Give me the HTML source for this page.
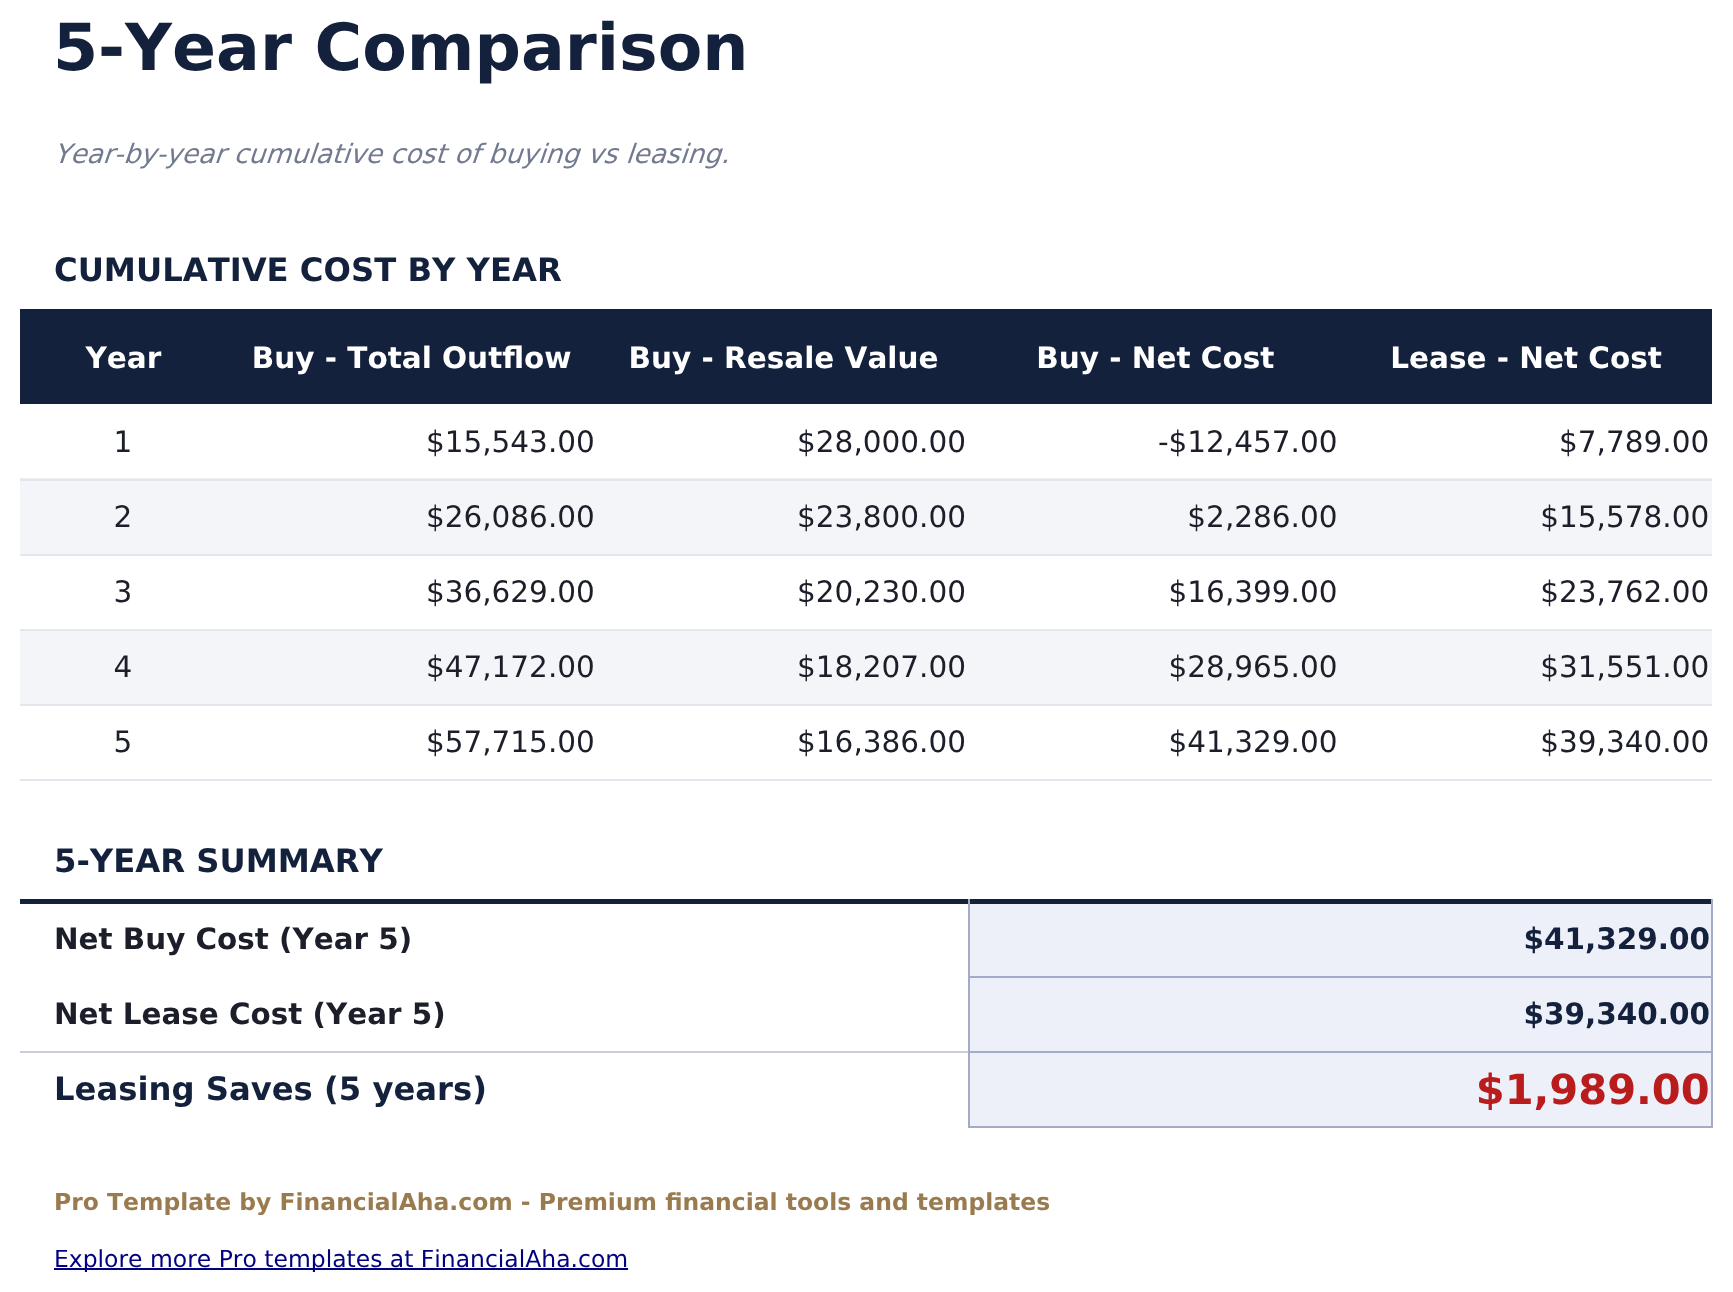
<!DOCTYPE html>
<html lang="en">
<head>
<meta charset="utf-8">
<title>5-Year Comparison</title>
<style>
html,body{margin:0;padding:0;background:#fff;}
body{width:1733px;height:1292px;position:relative;overflow:hidden;font-family:"DejaVu Sans","Liberation Sans",sans-serif;font-kerning:none;text-rendering:geometricPrecision;}
.t{position:absolute;white-space:nowrap;line-height:1;margin:0;}
.title{left:52.9px;top:17px;font-size:64.95px;font-weight:bold;color:#14213d;}
.sub{left:53.4px;top:142px;font-size:26.66px;color:#717a8e;transform:skewX(-19deg);transform-origin:0 22px;}
.sec{left:54px;font-size:32.25px;font-weight:bold;color:#14213d;}
.box{position:absolute;}
.hdr{left:20px;top:309px;width:1692px;height:95px;background:#14213d;}
.line{position:absolute;left:20px;width:1692px;height:2px;background:#e4e6ee;}
.alt{position:absolute;left:20px;width:1692px;background:#f4f5f8;}
.h{position:absolute;top:344px;font-size:29.5px;font-weight:bold;color:#fff;text-align:center;line-height:1;white-space:nowrap;}
.d{position:absolute;font-size:29.5px;color:#1c1e29;line-height:1;white-space:nowrap;text-align:right;}
.d.y{text-align:center;margin-left:0.6px;}
.c1{left:20px;width:204.8px;}
.c2{left:224.8px;width:370px;}
.c3{left:596.6px;width:369.4px;}
.c4{left:968.4px;width:369.1px;}
.c5{left:1340.2px;width:369px;}
.hc2{left:224.8px;width:371.8px;}
.hc3{left:596.6px;width:371.8px;}
.hc4{left:968.4px;width:371.8px;}
.hc5{left:1340.2px;width:371.8px;}
.lab{position:absolute;left:54px;font-weight:bold;font-size:29.4px;color:#1c1e29;white-space:nowrap;line-height:1;}
.cell{position:absolute;left:970px;width:741px;box-sizing:border-box;background:#edf0f8;}
.v{position:absolute;right:23px;font-weight:bold;white-space:nowrap;line-height:1;text-align:right;}
.foot{left:54px;top:1191px;font-size:23.46px;font-weight:bold;color:#9a7b4f;}
.link{left:54px;top:1248px;font-size:23.46px;color:#000080;text-decoration:underline;text-decoration-skip-ink:none;text-underline-offset:1px;}
</style>
</head>
<body><div style="position:absolute;left:0;top:0;width:1733px;height:1292px;will-change:transform">
<h1 class="t title">5-Year Comparison</h1>
<p class="t sub">Year-by-year cumulative cost of buying vs leasing.</p>
<h2 class="t sec" style="top:254px">CUMULATIVE COST BY YEAR</h2>

<div class="box hdr"></div>
<div class="h c1" style="margin-left:1px">Year</div>
<div class="h hc2" style="margin-left:1px">Buy - Total Outflow</div>
<div class="h hc3" style="margin-left:1px">Buy - Resale Value</div>
<div class="h hc4" style="margin-left:1px">Buy - Net Cost</div>
<div class="h hc5">Lease - Net Cost</div>

<div class="alt" style="top:481px;height:73px"></div>
<div class="alt" style="top:631px;height:73px"></div>
<div class="line" style="top:478px;height:1px;background:#eceef4"></div>
<div class="line" style="top:479px"></div>
<div class="line" style="top:554px"></div>
<div class="line" style="top:629px"></div>
<div class="line" style="top:704px"></div>
<div class="line" style="top:779px"></div>

<div class="d y c1" style="top:428px">1</div><div class="d c2" style="top:428px">$15,543.00</div><div class="d c3" style="top:428px">$28,000.00</div><div class="d c4" style="top:428px">-$12,457.00</div><div class="d c5" style="top:428px">$7,789.00</div>
<div class="d y c1" style="top:503px">2</div><div class="d c2" style="top:503px">$26,086.00</div><div class="d c3" style="top:503px">$23,800.00</div><div class="d c4" style="top:503px">$2,286.00</div><div class="d c5" style="top:503px">$15,578.00</div>
<div class="d y c1" style="top:578px">3</div><div class="d c2" style="top:578px">$36,629.00</div><div class="d c3" style="top:578px">$20,230.00</div><div class="d c4" style="top:578px">$16,399.00</div><div class="d c5" style="top:578px">$23,762.00</div>
<div class="d y c1" style="top:653px">4</div><div class="d c2" style="top:653px">$47,172.00</div><div class="d c3" style="top:653px">$18,207.00</div><div class="d c4" style="top:653px">$28,965.00</div><div class="d c5" style="top:653px">$31,551.00</div>
<div class="d y c1" style="top:728px">5</div><div class="d c2" style="top:728px">$57,715.00</div><div class="d c3" style="top:728px">$16,386.00</div><div class="d c4" style="top:728px">$41,329.00</div><div class="d c5" style="top:728px">$39,340.00</div>

<h2 class="t sec" style="top:845px">5-YEAR SUMMARY</h2>

<div class="box" style="left:20px;top:899px;width:1691px;height:5px;background:#14213d"></div>
<div class="cell" style="top:904px;height:72px"></div>
<div class="cell" style="top:978px;height:73px"></div>
<div class="cell" style="top:1053px;height:73px"></div>
<div class="box" style="left:968px;top:976px;width:745px;height:2px;background:#a3abc8"></div>
<div class="box" style="left:968px;top:1051px;width:745px;height:2px;background:#a3abc8"></div>
<div class="box" style="left:968px;top:1126px;width:745px;height:2px;background:#a3abc8"></div>
<div class="box" style="left:968px;top:899px;width:2px;height:229px;background:#a3abc8"></div>
<div class="box" style="left:1711px;top:899px;width:2px;height:229px;background:#a3abc8"></div>
<div class="box" style="left:20px;top:1051px;width:948px;height:2px;background:#c9cdd8"></div>

<div class="lab" style="top:925px">Net Buy Cost (Year 5)</div>
<div class="lab" style="top:1000px">Net Lease Cost (Year 5)</div>
<div class="lab" style="top:1073px;font-size:32.25px;color:#14213d">Leasing Saves (5 years)</div>
<div class="v" style="top:925px;font-size:29.5px;color:#14213d">$41,329.00</div>
<div class="v" style="top:1000px;font-size:29.5px;color:#14213d">$39,340.00</div>
<div class="v" style="top:1069px;right:23.3px;font-size:41.55px;color:#b91c1c">$1,989.00</div>

<div class="t foot">Pro Template by FinancialAha.com - Premium financial tools and templates</div>
<a class="t link">Explore more Pro templates at FinancialAha.com</a>
</div></body>
</html>
